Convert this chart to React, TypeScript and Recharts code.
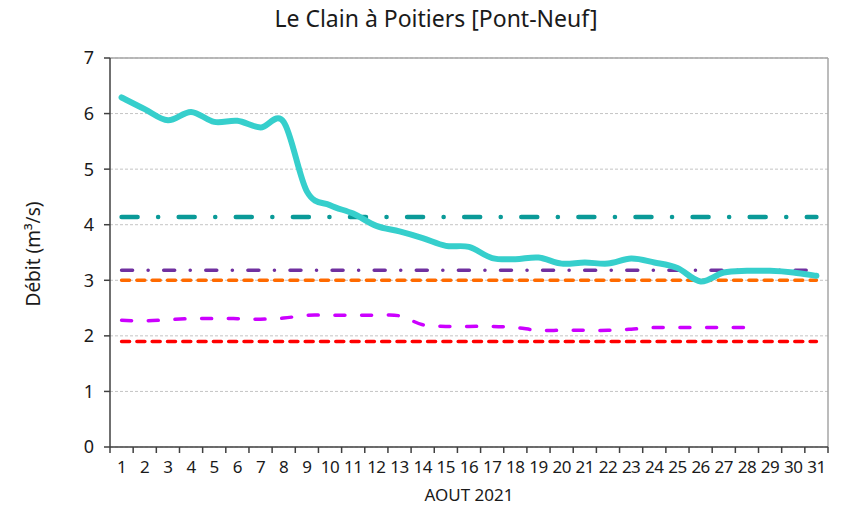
import { ComposedChart, Line, XAxis, YAxis, CartesianGrid, ReferenceLine, Label } from 'recharts'

// Jours du mois d'août 2021
const days = [1, 2, 3, 4, 5, 6, 7, 8, 9, 10, 11, 12, 13, 14, 15, 16, 17, 18, 19, 20, 21, 22, 23, 24, 25, 26, 27, 28, 29, 30, 31]

// Débit mesuré au Pont-Neuf (m3/s)
const debitClain = [
  6.29, 6.08, 5.88, 6.03, 5.85, 5.87, 5.75, 5.85, 4.6, 4.35, 4.2, 3.98, 3.88, 3.76, 3.62, 3.6,
  3.4, 3.38, 3.41, 3.3, 3.32, 3.3, 3.39, 3.32, 3.22, 2.98, 3.14, 3.17, 3.17, 3.14, 3.08,
]

// Deuxième série (tirets magenta), jusqu'au 28
const debitComparaison = [
  2.28, 2.27, 2.29, 2.31, 2.31, 2.31, 2.3, 2.32, 2.37, 2.37, 2.37, 2.37, 2.36, 2.2, 2.17, 2.17,
  2.17, 2.15, 2.1, 2.1, 2.1, 2.1, 2.12, 2.15, 2.15, 2.15, 2.15, 2.15,
]

// Seuils (m3/s)
const seuilVigilance = 4.14
const seuilAlerte = 3.18
const seuilAlerteRenforcee = 3.0
const seuilCrise = 1.9

const yTicks = [0, 1, 2, 3, 4, 5, 6, 7]

const data = days.map((d, i) => ({
  day: d,
  debit: debitClain[i],
  comparaison: debitComparaison[i],
  vigilance: seuilVigilance,
  alerte: seuilAlerte,
  renforcee: seuilAlerteRenforcee,
  crise: seuilCrise,
}))

const FONT = '"Noto Sans", "Open Sans", sans-serif'
const plotLeft = 110
const plotRight = 828
const bandWidth = (plotRight - plotLeft) / days.length

// lissage façon Excel (Catmull-Rom)
function smoothCurve(context: any) {
  let pts: number[][] = []
  return {
    areaStart() {},
    areaEnd() {},
    lineStart() {
      pts = []
    },
    point(x: number, y: number) {
      pts.push([+x, +y])
    },
    lineEnd() {
      if (!pts.length) return
      context.moveTo(pts[0][0], pts[0][1])
      const t = 1 / 6
      for (let i = 0; i < pts.length - 1; i++) {
        const p0 = pts[i - 1] || pts[i]
        const p1 = pts[i]
        const p2 = pts[i + 1]
        const p3 = pts[i + 2] || p2
        context.bezierCurveTo(
          p1[0] + (p2[0] - p0[0]) * t,
          p1[1] + (p2[1] - p0[1]) * t,
          p2[0] - (p3[0] - p1[0]) * t,
          p2[1] - (p3[1] - p1[1]) * t,
          p2[0],
          p2[1],
        )
      }
    },
  }
}

function DayTick(props: any) {
  const { x, y, payload } = props
  return (
    <g>
      <line x1={x - bandWidth / 2} x2={x - bandWidth / 2} y1={y} y2={y + 6} stroke="#404040" strokeWidth={1.5} />
      {payload.value === days[days.length - 1] && (
        <line x1={x + bandWidth / 2} x2={x + bandWidth / 2} y1={y} y2={y + 6} stroke="#404040" strokeWidth={1.5} />
      )}
      <text x={x} y={y + 26} textAnchor="middle" fontSize={17} fill="#1a1a1a" fontFamily={FONT} letterSpacing={-0.5}>
        {payload.value}
      </text>
    </g>
  )
}

export default function App() {
  return (
    <div style={{ position: 'absolute', left: 0, top: 0, width: 842, height: 509, background: '#fff', fontFamily: FONT }}>
      <div
        style={{
          position: 'absolute',
          top: 2,
          left: 236,
          width: 400,
          textAlign: 'center',
          fontSize: 23,
          color: '#1a1a1a',
        }}
      >
        Le Clain à Poitiers [Pont-Neuf]
      </div>
      <ComposedChart width={842} height={509} data={data} margin={{ top: 58, right: 14, bottom: 0, left: 0 }}>
        <CartesianGrid horizontal vertical={false} stroke="#c4c4c4" strokeDasharray="3 2" />
        <ReferenceLine y={7} stroke="#a6a6a6" strokeWidth={1.5} />
        <ReferenceLine x={31.5} stroke="#a6a6a6" strokeWidth={1.5} />
        <XAxis
          dataKey="day"
          type="number"
          domain={[0.5, 31.5]}
          ticks={days}
          interval={0}
          height={62}
          tickSize={0}
          tickMargin={0}
          tickLine={false}
          axisLine={{ stroke: '#404040', strokeWidth: 1.5 }}
          tick={<DayTick />}
        >
          <Label value="AOUT 2021" position="insideBottom" offset={8} fontSize={17} fill="#1a1a1a" fontFamily={FONT} />
        </XAxis>
        <YAxis
          domain={[0, 7]}
          ticks={yTicks}
          width={110}
          tickSize={6}
          tickMargin={10}
          axisLine={{ stroke: '#404040', strokeWidth: 1.5 }}
          tickLine={{ stroke: '#404040', strokeWidth: 1.5 }}
          tick={{ fontSize: 18, fill: '#1a1a1a', fontFamily: FONT }}
          label={{
            content: () => (
              <text x={40} y={254} transform="rotate(-90 40 254)" textAnchor="middle" fontSize={19} fill="#1a1a1a" fontFamily={FONT}>
                Débit (m³/s)
              </text>
            ),
          }}
        />
        <Line
          dataKey="vigilance"
          stroke="#0a9a98"
          strokeWidth={4.5}
          strokeDasharray="16 20.5 0.1 20.5"
          strokeLinecap="round"
          dot={false}
          activeDot={false}
          isAnimationActive={false}
        />
        <Line
          dataKey="crise"
          stroke="#ff0000"
          strokeWidth={3.5}
          strokeDasharray="8 7.3"
          strokeLinecap="round"
          dot={false}
          activeDot={false}
          isAnimationActive={false}
        />
        <Line
          dataKey="renforcee"
          stroke="#ff6a00"
          strokeWidth={3.5}
          strokeDasharray="8 7.3"
          strokeLinecap="round"
          dot={false}
          activeDot={false}
          isAnimationActive={false}
        />
        <Line
          dataKey="alerte"
          stroke="#7030a0"
          strokeWidth={3.5}
          strokeDasharray="11 15.5 0.1 15.5"
          strokeLinecap="round"
          dot={false}
          activeDot={false}
          isAnimationActive={false}
        />
        <Line
          dataKey="comparaison"
          type={smoothCurve as any}
          stroke="#cc00ff"
          strokeWidth={3.5}
          strokeDasharray="10 16.7"
          strokeLinecap="round"
          dot={false}
          activeDot={false}
          isAnimationActive={false}
        />
        <Line
          dataKey="debit"
          type={smoothCurve as any}
          stroke="#36cfcc"
          strokeWidth={6}
          strokeLinecap="round"
          dot={false}
          activeDot={false}
          isAnimationActive={false}
        />
      </ComposedChart>
    </div>
  )
}
